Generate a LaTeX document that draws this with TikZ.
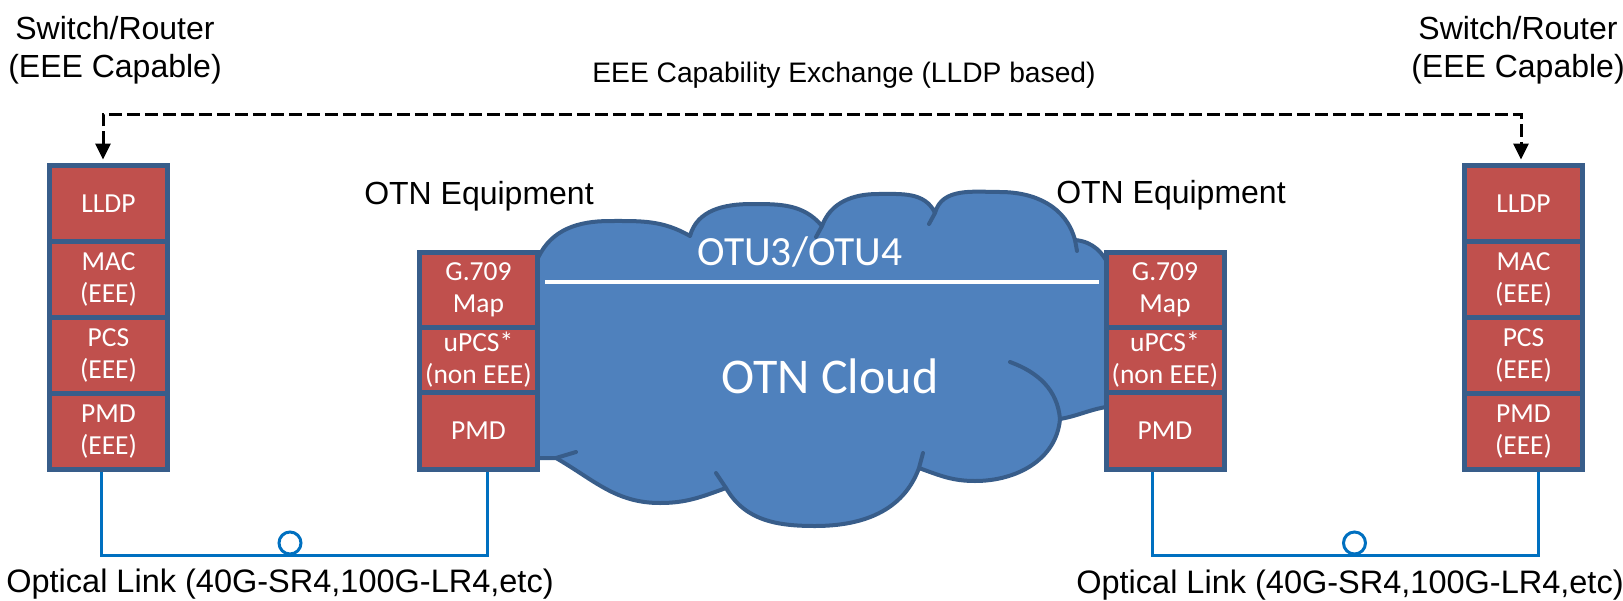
\documentclass[tikz,border=0pt]{standalone}
\usepackage{fontspec}
\setmainfont{Liberation Sans}
\newfontfamily\layerfont{Carlito}
\usetikzlibrary{arrows.meta}

\definecolor{layerred}{HTML}{C0504D}
\definecolor{layeredge}{HTML}{385D8A}
\definecolor{cloudblue}{HTML}{4F81BD}
\definecolor{fiberblue}{HTML}{0070C0}

\tikzset{
  layer/.style={draw=layeredge, fill=layerred, line width=5pt, minimum width=118pt,
    inner sep=0pt, outer sep=0pt, align=center, text=white,
    font=\layerfont\fontsize{27.5}{32.5}\selectfont},
  txt/.style={inner sep=0pt, align=center, font=\fontsize{32}{38}\selectfont},
  incloud/.style={inner sep=0pt, text=white},
  cloudbody/.style={draw=layeredge, fill=cloudblue, line width=4pt, line join=round},
  cloudline/.style={draw=layeredge, line width=4pt, line cap=round},
  exch/.style={line width=3pt, dash pattern=on 13pt off 5pt,
    arrows={Triangle[width=15pt,length=16pt]-Triangle[width=15pt,length=16pt]},
    shorten <=6pt, shorten >=6pt},
  fiber/.style={draw=fiberblue, line width=3pt, shorten <=2.5pt, shorten >=2.5pt},
  ring/.style={circle, draw=fiberblue, fill=white, line width=3pt, minimum size=22pt,
    inner sep=0pt, outer sep=0pt},
  otu/.style={draw=white, line width=4pt, shorten <=7.5pt, shorten >=7.5pt},
}

\begin{document}
\begin{tikzpicture}[x=1pt, y=-1pt]
    \useasboundingbox (0,0) rectangle (1623,600);

    % Draw the OTN cloud
    \filldraw[cloudbody]
      (556,458) -- (526,458) -- (526,262) -- (538,258)
      to[out=65,in=180] (610,221) to[out=0,in=150] (690,236)
      to[out=75,in=180] (752,204) to[out=0,in=130] (822,226)
      to[out=70,in=180] (878,194) to[out=0,in=115] (935,213)
      to[out=75,in=180] (1000,192) to[out=0,in=105] (1075,240)
      to[out=-5,in=95] (1120,320) -- (1118,405) -- (1106,407)
      to[out=190,in=10] (1060,419)
      to[out=-95,in=0] (975,481) to[out=180,in=-20] (919,468)
      to[out=-110,in=0] (815,526) to[out=180,in=-60] (726,488)
      to[out=-160,in=0] (660,503) to[out=180,in=-30] (556,458) -- cycle;
    % Inner arcs of the cloud
    \draw[cloudline] (822,226) -- (816,237);
    \draw[cloudline] (935,213) -- (929,224);
    \draw[cloudline] (1075,240) -- (1077,251);
    \draw[cloudline] (1060,419) to[out=95,in=-20] (1010,362);
    \draw[cloudline] (919,468) -- (923,453);
    \draw[cloudline] (726,488) -- (716,473);
    \draw[cloudline] (556,458) -- (576,452);

    % Switch/Router layer stacks
    \foreach \n/\yy/\txt in {0/203.5/LLDP, 1/279.5/{MAC\\(EEE)},
                            2/355.5/{PCS\\(EEE)}, 3/431.5/{PMD\\(EEE)}} {
        \node[layer, minimum height=76pt] (sl\n) at (108.5,\yy) {\txt};
        \node[layer, minimum height=76pt] (sr\n) at (1523.5,\yy) {\txt};
    }

    % OTN equipment layer stacks
    \foreach \n/\yy/\hh/\txt in {0/289.75/74.5/{G.709\\Map}, 1/359.5/65/{uPCS*\\(non EEE)},
                                2/430.5/77/PMD} {
        \node[layer, minimum height=\hh pt] (ol\n) at (478.5,\yy) {\txt};
        \node[layer, minimum height=\hh pt] (or\n) at (1165,\yy) {\txt};
    }

    % OTU path across the cloud
    \draw[otu] ([yshift=7.75pt]ol0.east) -- ([yshift=7.75pt]or0.west);
    \node[incloud, anchor=base, font=\layerfont\fontsize{41.5}{48}\selectfont] (otulbl) at (800,265) {OTU3/OTU4};
    \node[incloud, anchor=base, font=\layerfont\fontsize{50}{58}\selectfont] (cloudlbl) at (830,393) {OTN Cloud};

    % Capability exchange between the switches
    \draw[exch] ([xshift=-5.5pt]sl0.north) -- ++(0,-51.5) -| ([xshift=-2.5pt]sr0.north);
    \node[txt, anchor=base, font=\fontsize{28.2}{34}\selectfont] (exlbl) at (844,82) {EEE Capability Exchange (LLDP based)};

    % Optical links
    \coordinate (kl) at (290,555);
    \coordinate (kr) at (1354.5,555);
    \draw[fiber] ([xshift=-7.5pt]sl3.south) |- (kl) -| ([xshift=8.5pt]ol2.south);
    \draw[fiber] ([xshift=-13pt]or2.south) |- (kr) -| ([xshift=14.5pt]sr3.south);
    \node[ring] (lkl) at (290,543) {};
    \node[ring] (lkr) at (1354.5,543) {};

    % Labels
    \node[txt] (swl) at (115,50) {Switch/Router\\(EEE Capable)};
    \node[txt] (swr) at (1518,50) {Switch/Router\\(EEE Capable)};
    \node[txt, anchor=base] (eql) at (479,204) {OTN Equipment};
    \node[txt, anchor=base] (eqr) at (1171,203) {OTN Equipment};
    \node[txt, anchor=base, font=\fontsize{32.5}{38}\selectfont] (oll) at (280,592) {Optical Link (40G-SR4,100G-LR4,etc)};
    \node[txt, anchor=base, font=\fontsize{32.5}{38}\selectfont] (olr) at (1350,593) {Optical Link (40G-SR4,100G-LR4,etc)};
\end{tikzpicture}
\end{document}
